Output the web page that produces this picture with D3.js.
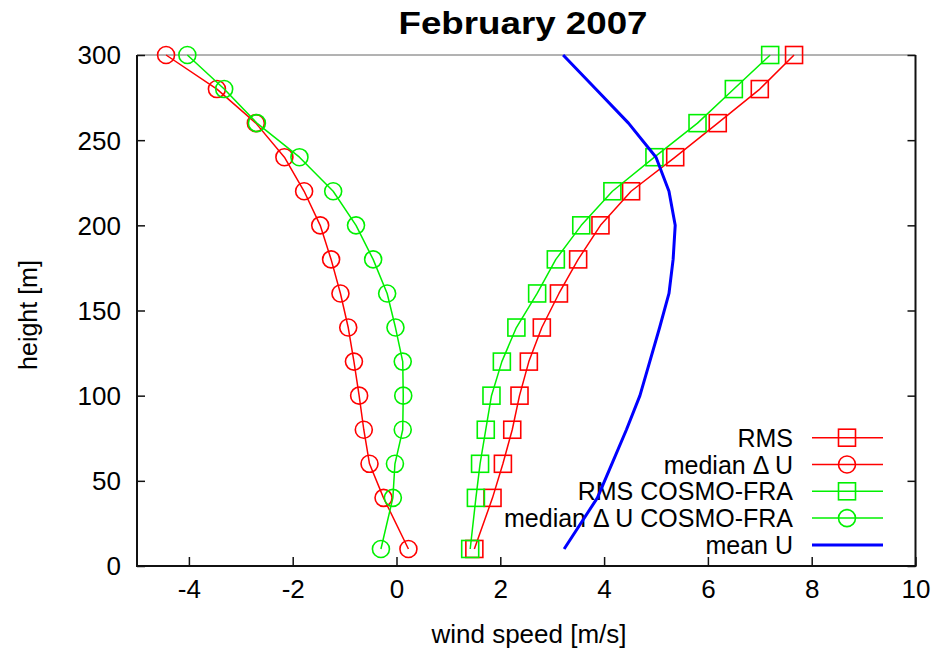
<!DOCTYPE html>
<html>
<head>
<meta charset="utf-8">
<script src="https://cdn.jsdelivr.net/npm/d3@7"></script>
<style>
  html, body { margin: 0; padding: 0; background: #fff; }
  text { font-family: "Liberation Sans", Arial, sans-serif; fill: #000; }
</style>
</head>
<body>
<svg id="chart" width="938" height="651"></svg>
<script>
// Wind profile statistics, February 2007
const heights      = [10, 40, 60, 80, 100, 120, 140, 160, 180, 200, 220, 240, 260, 280, 300];
const rms          = [1.50, 1.85, 2.05, 2.23, 2.37, 2.55, 2.80, 3.13, 3.50, 3.93, 4.52, 5.37, 6.19, 7.00, 7.66];
const medianDU     = [0.23, -0.25, -0.52, -0.63, -0.72, -0.82, -0.93, -1.08, -1.26, -1.47, -1.78, -2.16, -2.71, -3.46, -4.44];
const rmsCosmo     = [1.42, 1.53, 1.61, 1.72, 1.83, 2.03, 2.31, 2.71, 3.07, 3.56, 4.16, 4.97, 5.80, 6.50, 7.20];
const medianDUCosmo= [-0.30, -0.07, -0.03, 0.12, 0.13, 0.12, -0.02, -0.18, -0.45, -0.78, -1.22, -1.87, -2.69, -3.32, -4.03];
const meanU        = [3.23, 3.87, 4.15, 4.43, 4.69, 4.88, 5.07, 5.25, 5.33, 5.37, 5.25, 5.00, 4.47, 3.84, 3.21];

const xTicks = [-4, -2, 0, 2, 4, 6, 8, 10];
const yTicks = [0, 50, 100, 150, 200, 250, 300];

const series = [
  { name: "RMS",                        values: rms,           color: "#ff0000", marker: "square" },
  { name: "median \u0394 U",            values: medianDU,      color: "#ff0000", marker: "circle" },
  { name: "RMS COSMO-FRA",              values: rmsCosmo,      color: "#00f000", marker: "square" },
  { name: "median \u0394 U COSMO-FRA",  values: medianDUCosmo, color: "#00f000", marker: "circle" },
  { name: "mean U",                     values: meanU,         color: "#0000ff", marker: null }
];

const svg = d3.select("#chart");
const m = { left: 137, right: 915.5, top: 55, bottom: 566 };

const x = d3.scaleLinear().domain([-5, 10]).range([m.left, m.right]);
const y = d3.scaleLinear().domain([0, 300]).range([m.bottom, m.top]);

// Title
svg.append("text")
  .attr("x", 523).attr("y", 34)
  .attr("text-anchor", "middle")
  .attr("font-size", 32).attr("font-weight", "bold")
  .attr("textLength", 249).attr("lengthAdjust", "spacingAndGlyphs")
  .text("February 2007");

// Frame
svg.append("line").attr("x1", m.left).attr("x2", m.right).attr("y1", m.top).attr("y2", m.top)
  .attr("stroke", "#666").attr("stroke-width", 1);
svg.append("path")
  .attr("d", `M${m.left},${m.top}V${m.bottom}H${m.right}V${m.top}`)
  .attr("fill", "none").attr("stroke", "#111").attr("stroke-width", 2);

// Axes via d3-axis, ticks pointing inward; plain hyphen for negatives
const fmt = d => String(d);
const xAxis = svg.append("g").attr("transform", `translate(0,${m.bottom})`)
  .call(d3.axisBottom(x).tickValues(xTicks).tickSizeInner(-9).tickSizeOuter(0).tickPadding(27)
    .tickFormat(fmt));
const yAxis = svg.append("g").attr("transform", `translate(${m.left},0)`)
  .call(d3.axisLeft(y).tickValues(yTicks).tickSizeInner(-8).tickSizeOuter(0).tickPadding(16)
    .tickFormat(fmt));
const yAxisR = svg.append("g").attr("transform", `translate(${m.right},0)`)
  .call(d3.axisRight(y).tickValues(yTicks).tickSizeInner(-8).tickSizeOuter(0).tickFormat(""));

[xAxis, yAxis, yAxisR].forEach(g => {
  g.select(".domain").remove();
  g.selectAll(".tick line").attr("stroke", "#111").attr("stroke-width", 1.5);
  g.selectAll(".tick text").attr("font-size", 26)
    .attr("font-family", "'Liberation Sans', Arial, sans-serif").attr("fill", "#000");
});
yAxis.selectAll(".tick text").attr("dy", "0.34em");
xAxis.selectAll(".tick text").attr("dy", "0.2em");

// Axis titles
svg.append("text")
  .attr("x", 529).attr("y", 643)
  .attr("text-anchor", "middle").attr("font-size", 26)
  .text("wind speed [m/s]");
svg.append("text")
  .attr("transform", "translate(37,315) rotate(-90)")
  .attr("text-anchor", "middle").attr("font-size", 25)
  .text("height [m]");

// Marker drawing helper
function drawMarker(g, kind, cx, cy, color) {
  if (kind === "square") {
    g.append("rect").attr("x", cx - 8.5).attr("y", cy - 8.5)
      .attr("width", 17).attr("height", 17)
      .attr("fill", "none").attr("stroke", color).attr("stroke-width", 1.6);
  } else if (kind === "circle") {
    g.append("circle").attr("cx", cx).attr("cy", cy).attr("r", 8.5)
      .attr("fill", "none").attr("stroke", color).attr("stroke-width", 1.6);
  }
}

// Legend
const lg = svg.append("g");
const legendRowY = d => 437.7 + d * 26.8;
series.forEach((s, i) => {
  const ly = legendRowY(i);
  lg.append("text").attr("x", 793).attr("y", ly + 9)
    .attr("text-anchor", "end").attr("font-size", 25).text(s.name);
  lg.append("line").attr("x1", 812).attr("x2", 883).attr("y1", ly).attr("y2", ly)
    .attr("stroke", s.color).attr("stroke-width", s.marker ? 1.5 : 3);
  if (s.marker) drawMarker(lg, s.marker, 847, ly, s.color);
});

// Profiles
const line = d3.line().x(d => x(d[0])).y(d => y(d[1]));
series.forEach(s => {
  const pts = s.values.map((v, i) => [v, heights[i]]);
  const g = svg.append("g");
  g.append("path").datum(pts).attr("d", line)
    .attr("fill", "none").attr("stroke", s.color)
    .attr("stroke-width", s.marker ? 1.5 : 3)
    .attr("stroke-linejoin", "round");
  if (s.marker) pts.forEach(p => drawMarker(g, s.marker, x(p[0]), y(p[1]), s.color));
});
</script>
</body>
</html>
